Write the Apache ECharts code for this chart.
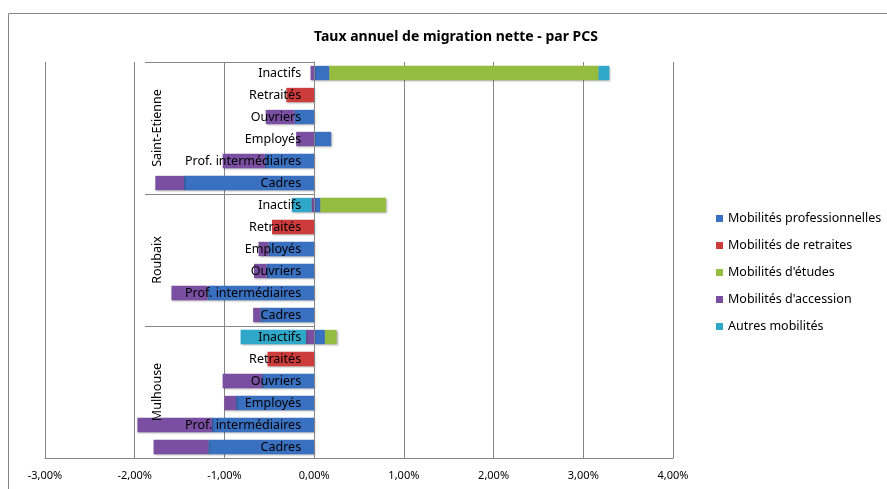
<!DOCTYPE html>
<html>
<head>
<meta charset="utf-8">
<script src="https://cdn.jsdelivr.net/npm/echarts@6/dist/echarts.min.js"></script>
<style>
html,body{margin:0;padding:0;background:#fff;}
#c{width:887px;height:489px;}
</style>
</head>
<body>
<div id="c"></div>
<script>
// Categories bottom-to-top
const categories = [
  'Cadres','Prof. intermédiaires','Employés','Ouvriers','Retraités','Inactifs',
  'Cadres','Prof. intermédiaires','Ouvriers','Employés','Retraités','Inactifs',
  'Cadres','Prof. intermédiaires','Employés','Ouvriers','Retraités','Inactifs'
];
const cities = ['Mulhouse','Roubaix','Saint-Etienne'];
const seriesNames = ['Mobilités professionnelles','Mobilités de retraites',"Mobilités d'études","Mobilités d'accession",'Autres mobilités'];
// values in %
const proValues      = [-1.18,-1.14,-0.87,-0.58,0,0.12,  -0.60,-1.19,-0.53,-0.51,0,0.07,  -1.45,-0.55,0.19,-0.22,0,0.17];
const retraitesValues= [0,0,0,0,-0.52,0,               0,0,0,0,-0.47,0,                  0,0,0,0,-0.31,0];
const etudesValues   = [0,0,0,0,0,0.13,                0,0,0,0,0,0.73,                   0,0,0,0,0,3.00];
const accessionValues= [-0.61,-0.83,-0.13,-0.44,0,-0.09, -0.08,-0.40,-0.14,-0.11,0,-0.03, -0.32,-0.47,-0.20,-0.32,0,-0.04];
const autresValues   = [0,0,0,0,0,-0.73,               0,0,0,0,0,-0.22,                  0,0,0,0,0,0.12];
const xTicks = [-3,-2,-1,0,1,2,3,4];

const colors = ['#3a70c0','#cc3c3a','#94bd3f','#7a4ea0','#2fa7c8'];
const FONT = 'Noto Sans';
const allValues = [proValues, retraitesValues, etudesValues, accessionValues, autresValues];

const W = 887;
const gridLeft = 45, gridRight = 214;
const gridWidth = W - gridLeft - gridRight;
const xMin = xTicks[0], xMax = xTicks[xTicks.length-1];
// distance from grid left edge to the zero line
const zeroOffset = gridWidth * (0 - xMin) / (xMax - xMin);

const chart = echarts.init(document.getElementById('c'), null, {renderer:'canvas'});
const option = {
  animation:false,
  color: colors,
  textStyle:{fontFamily:FONT},
  title:{
    text:'Taux annuel de migration nette - par PCS',
    left:309, top:25,
    textStyle:{fontFamily:FONT,fontWeight:'bold',fontSize:14,color:'#000'}
  },
  legend:{
    orient:'vertical', left:711, top:207,
    itemWidth:7, itemHeight:7, itemGap:14, icon:'rect',
    textStyle:{fontFamily:FONT,fontSize:12.5,color:'#000'},
    data:seriesNames
  },
  grid:{left:gridLeft, right:gridRight, top:62, bottom:31, containLabel:false, outerBoundsMode:'none'},
  xAxis:{
    type:'value', min:xMin, max:xMax, interval:1,
    axisLine:{show:true,lineStyle:{color:'#868686'}},
    axisTick:{show:false},
    splitLine:{show:true,lineStyle:{color:'#868686',width:1}},
    axisLabel:{fontFamily:FONT,fontSize:11,color:'#000',margin:12,
      formatter:v=>v.toFixed(2).replace('.',',')+'%'}
  },
  yAxis:[{
    type:'category', data:categories, z:10, position:'left', offset:-zeroOffset,
    axisLine:{show:true,onZero:false,lineStyle:{color:'#868686'}},
    axisTick:{show:false},
    axisLabel:{fontFamily:FONT,fontSize:12.5,color:'#000',margin:13,interval:0}
  },{
    type:'category', data:cities, position:'left', offset:-100, z:10,
    axisLine:{show:false,onZero:false},
    axisTick:{show:true,inside:true,length:zeroOffset-100,lineStyle:{color:'#868686'}},
    axisLabel:{fontFamily:FONT,fontSize:12.5,color:'#000',inside:true,rotate:90,margin:6}
  }],
  series: seriesNames.map((n,i)=>({
    name:n, type:'bar', stack:'total', yAxisIndex:0,
    barCategoryGap:'35%',
    itemStyle:{color:colors[i],shadowColor:'rgba(0,0,0,0.35)',shadowBlur:2,shadowOffsetX:1,shadowOffsetY:1},
    data:allValues[i]
  })),
  graphic:[{
    type:'rect', shape:{x:8.5,y:13.5,width:1000,height:1000},
    style:{fill:'none',stroke:'#878787',lineWidth:1}, silent:true, z:-1
  }]
};
chart.setOption(option);
</script>
</body>
</html>
